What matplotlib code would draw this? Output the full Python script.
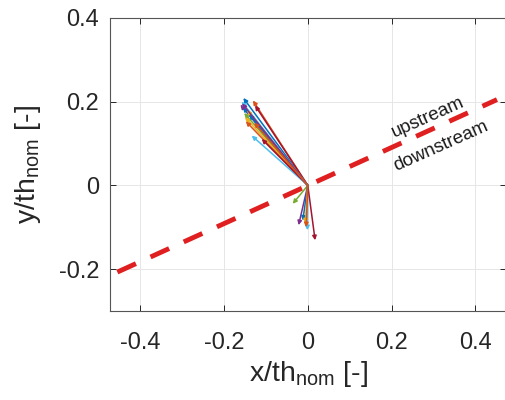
import matplotlib
matplotlib.use("Agg")
import matplotlib.pyplot as plt

plt.rcParams['font.family'] = ['Liberation Sans', 'DejaVu Sans']
plt.rcParams['mathtext.fontset'] = 'custom'
plt.rcParams['mathtext.rm'] = 'Liberation Sans'
plt.rcParams['mathtext.it'] = 'Liberation Sans:italic'

# arrow tips (start at origin)
tip_x = [-0.154, -0.131, -0.161, -0.155, -0.152, -0.150, -0.148, -0.134, -0.110, -0.126,
         -0.158, -0.145, -0.140, -0.157, -0.128, -0.036, -0.022, -0.012, -0.001, -0.006, 0.0175, -0.004]
tip_y = [0.209, 0.203, 0.193, 0.187, 0.173, 0.163, 0.153, 0.119, 0.111, 0.191,
         0.200, 0.180, 0.170, 0.196, 0.150, -0.044, -0.095, -0.084, -0.107, -0.091, -0.131, -0.100]
arrow_colors = ['#0072BD', '#D95319', '#7E2F8E', '#0072BD', '#77AC30', '#EDB120', '#D95319',
                '#4DBEEE', '#A2142F', '#A2142F', '#4DBEEE', '#EDB120', '#0072BD', '#7E2F8E',
                '#D95319', '#77AC30', '#7E2F8E', '#0072BD', '#4DBEEE', '#EDB120', '#A2142F', '#D95319']

line_x = [-0.455, 0.452]
line_y = [-0.207, 0.205]

xticks = [-0.4, -0.2, 0, 0.2, 0.4]
yticks = [-0.2, 0, 0.2, 0.4]
xtick_labels = ['-0.4', '-0.2', '0', '0.2', '0.4']
ytick_labels = ['-0.2', '0', '0.2', '0.4']

fig = plt.figure(figsize=(5.05, 4.0), dpi=100)
ax = fig.add_axes([110/505, 89/400, 396/505, 293/400])
ax.set_xlim(-0.472, 0.473)
ax.set_ylim(-0.3, 0.4)
ax.set_aspect('equal', adjustable='box')

ax.plot(line_x, line_y, color='#E02020', lw=3.5, dashes=(4.2, 3.3), zorder=2)

for tx, ty, c in zip(tip_x, tip_y, arrow_colors):
    ax.annotate('', xy=(tx, ty), xytext=(0, 0),
                arrowprops=dict(arrowstyle='-|>', color=c, lw=1.1, mutation_scale=6,
                                shrinkA=0, shrinkB=0), zorder=3)

ax.text(0.287, 0.163, 'upstream', rotation=24, ha='center', va='center',
        fontsize=13.5, color='#1a1a1a', rotation_mode='anchor')
ax.text(0.318, 0.093, 'downstream', rotation=24, ha='center', va='center',
        fontsize=13.5, color='#1a1a1a', rotation_mode='anchor')

ax.set_xticks(xticks)
ax.set_xticklabels(xtick_labels)
ax.set_yticks(yticks)
ax.set_yticklabels(ytick_labels)
ax.tick_params(direction='in', top=True, right=True, labelsize=17, colors='#262626',
               length=4, width=0.7)
ax.tick_params(axis='x', pad=15)
ax.tick_params(axis='y', pad=8)
ax.grid(True, color='#e6e6e6', lw=0.7)
ax.set_axisbelow(True)
for s in ax.spines.values():
    s.set_color('#555555')
    s.set_linewidth(0.8)

ax.set_xlabel(r'x/th$_{\mathrm{nom}}$ [-]', fontsize=20.5, color='#262626', labelpad=4)
ax.set_ylabel(r'y/th$_{\mathrm{nom}}$ [-]', fontsize=20.5, color='#262626', labelpad=11)

fig.savefig('out.png', dpi=100)
